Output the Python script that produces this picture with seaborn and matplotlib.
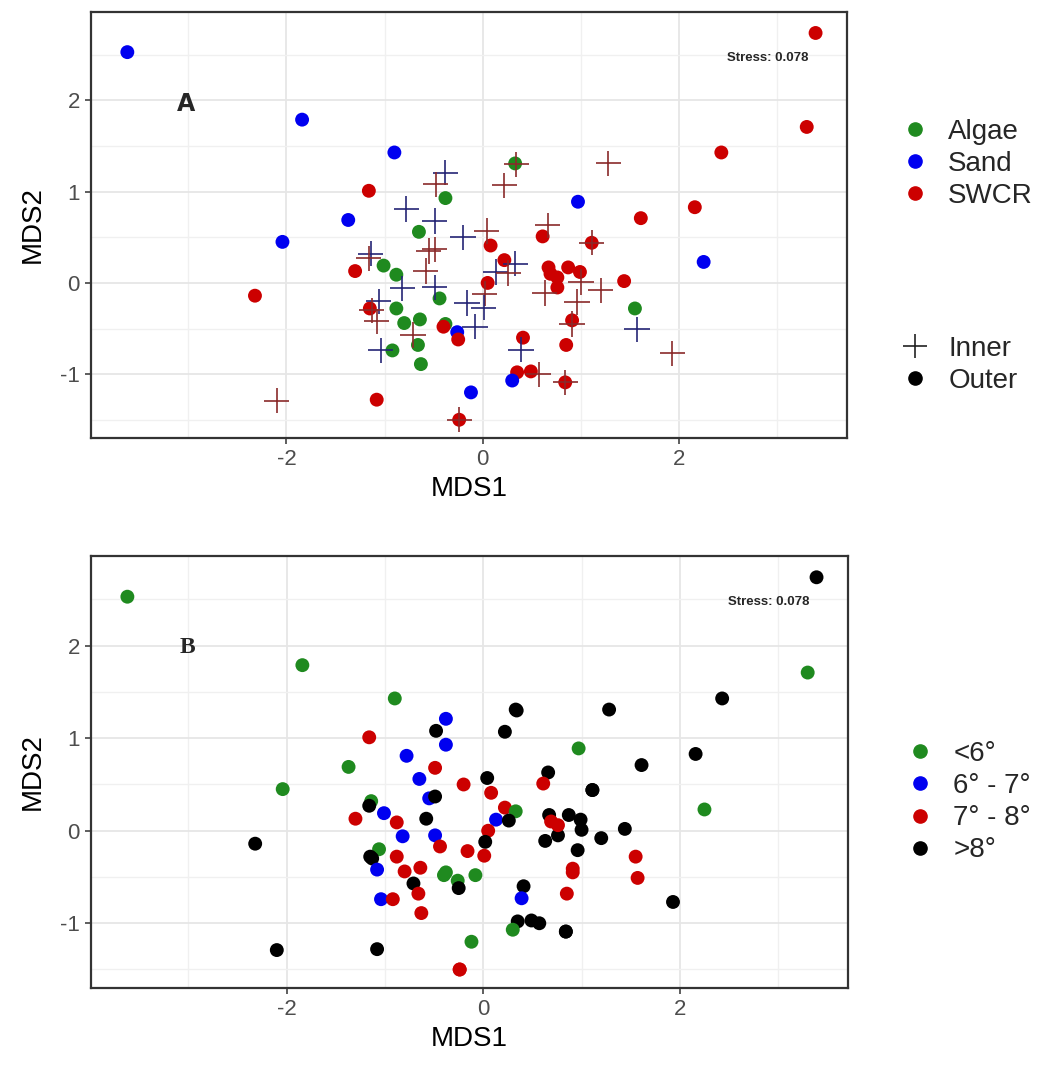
import matplotlib
matplotlib.use("Agg")
import matplotlib.pyplot as plt
from matplotlib.lines import Line2D
from matplotlib import font_manager
from matplotlib.ticker import FixedLocator
import pandas as pd
import seaborn as sns

# NMDS site scores (shared by both panels)
mds1 = [-3.62, -1.84, -0.90, -0.38, -0.48, -0.38, -1.16, -1.37, -0.78, -0.49,
        -0.65, -0.20, -2.04, -0.55, -0.49, -1.14, -1.16, -1.01, -1.30, -0.88,
        -0.58, -0.82, -0.49, -0.44, -0.16, -2.32, -1.06, -1.15, -1.13, -0.88,
        -1.08, -0.80, -0.64, -0.71, -0.66, -0.38, -0.40, -0.26, -0.25, -1.04,
        -0.92, -0.63, -2.10, -1.08, -0.12, -0.24, -0.24, 0.04, 0.08, 0.66,
        0.61, 1.11, 1.11, 0.22, 0.33, 0.13, 0.26, 0.05, 0.02, 0.01,
        -0.08, 0.67, 0.87, 0.99, 1.00, 0.63, 0.76, 0.96, 1.20, 1.44,
        0.76, 0.69, 1.55, 1.57, 0.91, 0.91, 0.85, 0.41, 0.39, 0.35,
        0.49, 0.57, 0.30, 0.84, 0.84, 1.93, 2.25, 3.39, 3.30, 2.43,
        1.28, 0.33, 0.34, 0.22, 0.97, 1.61, 2.16]
mds2 = [2.53, 1.79, 1.43, 1.21, 1.08, 0.93, 1.01, 0.69, 0.81, 0.68,
        0.56, 0.50, 0.45, 0.35, 0.37, 0.32, 0.27, 0.19, 0.13, 0.09,
        0.13, -0.06, -0.05, -0.17, -0.22, -0.14, -0.20, -0.28, -0.30, -0.28,
        -0.42, -0.44, -0.40, -0.57, -0.68, -0.45, -0.48, -0.54, -0.62, -0.74,
        -0.74, -0.89, -1.29, -1.28, -1.20, -1.50, -1.50, 0.57, 0.41, 0.63,
        0.51, 0.44, 0.44, 0.25, 0.21, 0.12, 0.11, 0.00, -0.12, -0.27,
        -0.48, 0.17, 0.17, 0.12, 0.01, -0.11, -0.05, -0.21, -0.08, 0.02,
        0.06, 0.10, -0.28, -0.51, -0.41, -0.45, -0.68, -0.60, -0.73, -0.98,
        -0.97, -1.00, -1.07, -1.09, -1.09, -0.77, 0.23, 2.74, 1.71, 1.43,
        1.31, 1.31, 1.30, 1.07, 0.89, 0.71, 0.83]
habitat = ["Sand", "Sand", "Sand", "Sand", "SWCR", "Algae", "SWCR", "Sand", "Sand", "Sand",
           "Algae", "Sand", "Sand", "SWCR", "SWCR", "Sand", "SWCR", "Algae", "SWCR", "Algae",
           "SWCR", "Sand", "Sand", "Algae", "Sand", "SWCR", "Sand", "SWCR", "SWCR", "Algae",
           "SWCR", "Algae", "Algae", "SWCR", "Algae", "Algae", "SWCR", "Sand", "SWCR", "Sand",
           "Algae", "Algae", "SWCR", "SWCR", "Sand", "SWCR", "SWCR", "SWCR", "SWCR", "SWCR",
           "SWCR", "SWCR", "SWCR", "SWCR", "Sand", "Sand", "SWCR", "SWCR", "SWCR", "Sand",
           "Sand", "SWCR", "SWCR", "SWCR", "SWCR", "SWCR", "SWCR", "SWCR", "SWCR", "SWCR",
           "SWCR", "SWCR", "Algae", "Sand", "SWCR", "SWCR", "SWCR", "SWCR", "Sand", "SWCR",
           "SWCR", "SWCR", "Sand", "SWCR", "SWCR", "SWCR", "Sand", "SWCR", "SWCR", "SWCR",
           "SWCR", "Algae", "SWCR", "SWCR", "Sand", "SWCR", "SWCR"]
zone = ["Outer", "Outer", "Outer", "Inner", "Inner", "Outer", "Outer", "Outer", "Inner", "Inner",
        "Outer", "Inner", "Outer", "Inner", "Inner", "Inner", "Inner", "Outer", "Outer", "Outer",
        "Inner", "Inner", "Inner", "Outer", "Inner", "Outer", "Inner", "Outer", "Inner", "Outer",
        "Inner", "Outer", "Outer", "Inner", "Outer", "Outer", "Outer", "Outer", "Outer", "Inner",
        "Outer", "Outer", "Inner", "Outer", "Outer", "Outer", "Inner", "Inner", "Outer", "Inner",
        "Outer", "Outer", "Inner", "Outer", "Inner", "Inner", "Inner", "Outer", "Inner", "Inner",
        "Inner", "Outer", "Outer", "Outer", "Inner", "Inner", "Outer", "Inner", "Inner", "Outer",
        "Outer", "Outer", "Outer", "Inner", "Outer", "Inner", "Outer", "Outer", "Inner", "Outer",
        "Outer", "Inner", "Outer", "Outer", "Inner", "Inner", "Outer", "Outer", "Outer", "Outer",
        "Inner", "Outer", "Inner", "Inner", "Outer", "Outer", "Outer"]
temperature = ["<6°", "<6°", "<6°", "6° - 7°", ">8°", "6° - 7°", "7° - 8°", "<6°", "6° - 7°", "7° - 8°",
               "6° - 7°", "7° - 8°", "<6°", "6° - 7°", ">8°", "<6°", ">8°", "6° - 7°", "7° - 8°", "7° - 8°",
               ">8°", "6° - 7°", "6° - 7°", "7° - 8°", "7° - 8°", ">8°", "<6°", ">8°", ">8°", "7° - 8°",
               "6° - 7°", "7° - 8°", "7° - 8°", ">8°", "7° - 8°", "<6°", "<6°", "<6°", ">8°", "6° - 7°",
               "7° - 8°", "7° - 8°", ">8°", ">8°", "<6°", "7° - 8°", "7° - 8°", ">8°", "7° - 8°", ">8°",
               "7° - 8°", ">8°", ">8°", "7° - 8°", "<6°", "6° - 7°", ">8°", "7° - 8°", ">8°", "7° - 8°",
               "<6°", ">8°", ">8°", ">8°", ">8°", ">8°", ">8°", ">8°", ">8°", ">8°",
               "7° - 8°", "7° - 8°", "7° - 8°", "7° - 8°", "7° - 8°", "7° - 8°", "7° - 8°", ">8°", "6° - 7°", ">8°",
               ">8°", ">8°", "<6°", ">8°", ">8°", ">8°", "<6°", ">8°", "<6°", ">8°",
               ">8°", ">8°", ">8°", ">8°", "<6°", ">8°", ">8°"]

habitat_levels = ["Algae", "Sand", "SWCR"]
zone_levels = ["Inner", "Outer"]
temp_levels = ["<6°", "6° - 7°", "7° - 8°", ">8°"]
x_ticks = [-2, 0, 2]
y_ticks = [-1, 0, 1, 2]
stress_text = "Stress: 0.078"
panel_tags = ["A", "B"]

df = pd.DataFrame({"MDS1": mds1, "MDS2": mds2, "habitat": habitat,
                   "zone": zone, "temperature": temperature})

sns.set_style("white")
available = {f.name for f in font_manager.fontManager.ttflist}
narrow = "Liberation Sans Narrow" if "Liberation Sans Narrow" in available else "Liberation Sans"
plt.rcParams["font.family"] = ["Liberation Sans", "DejaVu Sans"]
plt.rcParams["axes.unicode_minus"] = False

hab_colors = {"Algae": "#1f8a1f", "Sand": "#0000f0", "SWCR": "#cc0000"}
cross_colors = {"Algae": "#1f5f1f", "Sand": "#252575", "SWCR": "#8a2a2a"}
temp_colors = {"<6°": "#1f8a1f", "6° - 7°": "#0000f0", "7° - 8°": "#cc0000", ">8°": "#000000"}

W, H = 1053, 1070
fig = plt.figure(figsize=(W / 100, H / 100), dpi=100)
axA = fig.add_axes([91 / W, 1 - 438 / H, (847 - 91) / W, (438 - 12) / H])
axB = fig.add_axes([91 / W, 1 - 988 / H, (848 - 91) / W, (988 - 556) / H])

dot_size = 100
outer = df[df["zone"] == "Outer"]
inner = df[df["zone"] == "Inner"]
sns.scatterplot(data=outer, x="MDS1", y="MDS2", hue="habitat", hue_order=habitat_levels,
                palette=hab_colors, marker="o", s=dot_size, linewidth=0, legend=False,
                ax=axA, zorder=3)
sns.scatterplot(data=inner, x="MDS1", y="MDS2", hue="habitat", hue_order=habitat_levels,
                palette=cross_colors, marker="+", s=330, linewidth=1.2, legend=False,
                ax=axA, zorder=4)
sns.scatterplot(data=df, x="MDS1", y="MDS2", hue="temperature", hue_order=temp_levels,
                palette=temp_colors, marker="o", s=dot_size, linewidth=0, legend=False,
                ax=axB, zorder=3)

for ax, tag in zip([axA, axB], panel_tags):
    ax.set_xlim(-3.99, 3.71)
    ax.set_ylim(-1.70, 2.97)
    ax.xaxis.set_major_locator(FixedLocator(x_ticks))
    ax.yaxis.set_major_locator(FixedLocator(y_ticks))
    ax.xaxis.set_minor_locator(FixedLocator([-3, -1, 1, 3]))
    ax.yaxis.set_minor_locator(FixedLocator([-1.5, -0.5, 0.5, 1.5, 2.5]))
    ax.set_axisbelow(True)
    ax.grid(which="major", color="#e6e6e6", linewidth=1.3)
    ax.grid(which="minor", color="#f0f0f0", linewidth=1.0)
    for sp in ax.spines.values():
        sp.set_color("#333333")
        sp.set_linewidth(1.6)
    ax.tick_params(which="major", direction="out", length=4, width=1.1, color="#333333",
                   labelsize=16, labelcolor="#4d4d4d", pad=4, bottom=True, left=True)
    ax.tick_params(which="minor", length=0)
    for lab in ax.get_xticklabels() + ax.get_yticklabels():
        lab.set_family(narrow)
    ax.set_xlabel("MDS1", fontsize=20, family=narrow, color="black", labelpad=4)
    ax.set_ylabel("MDS2", fontsize=20, family=narrow, color="black", labelpad=10)
    ax.text(2.90, 2.47, stress_text, fontsize=9.5, fontweight="bold", ha="center", va="center")

axA.text(-3.02, 1.96, panel_tags[0], fontsize=17, fontweight="bold", family="DejaVu Sans",
         ha="center", va="center")
axB.text(-3.01, 1.98, panel_tags[1], fontsize=17, fontweight="bold", family="Liberation Serif",
         ha="center", va="center")


def dot(color):
    return Line2D([], [], linestyle="none", marker="o", markersize=9.5,
                  markerfacecolor=color, markeredgecolor=color)


leg_kw = dict(frameon=False, fontsize=20, handlelength=1.0, handletextpad=0.7,
              labelspacing=0.22, borderpad=0, borderaxespad=0, loc="upper left")

hab_handles = [dot(hab_colors[h]) for h in habitat_levels]
fig.legend(hab_handles, habitat_levels, bbox_to_anchor=(901 / W, 1 - 119 / H), **leg_kw)

zone_handles = [Line2D([], [], linestyle="none", marker="+", markersize=17, markeredgewidth=1.2,
                       color="#222222"),
                dot("black")]
fig.legend(zone_handles, zone_levels, bbox_to_anchor=(901 / W, 1 - 336 / H), **leg_kw)

temp_handles = [dot(temp_colors[t]) for t in temp_levels]
fig.legend(temp_handles, temp_levels, bbox_to_anchor=(906 / W, 1 - 741 / H), **leg_kw)

fig.savefig("out.png", dpi=100)
